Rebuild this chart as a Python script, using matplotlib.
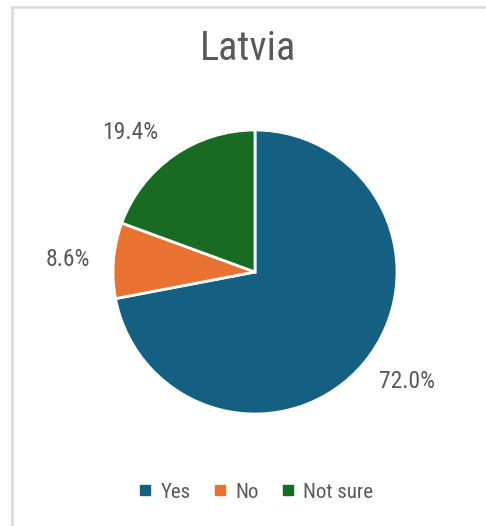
import numpy as np
import matplotlib
matplotlib.use('Agg')
import matplotlib.pyplot as plt
import matplotlib.font_manager as fm
from matplotlib.lines import Line2D

title = "Latvia"
categories = ["Yes", "No", "Not sure"]
values = [72.0, 8.6, 19.4]
colors = ["#156082", "#E97132", "#196B24"]

# look for a narrow face, else fall back to Liberation Sans
faces = [(f.name, f.stretch) for f in fm.fontManager.ttflist]
narrow = [n for n in ['Liberation Sans Narrow', 'Arial Narrow', 'Roboto Condensed',
                      'Open Sans Condensed', 'DejaVu Sans Condensed']
          if n in [a for a, _ in faces]]
if narrow:
    font, stretch, k = narrow[0], 'normal', 1.0
elif ('DejaVu Sans', 'condensed') in faces or ('DejaVu Sans', 'semi-condensed') in faces:
    font, stretch, k = 'DejaVu Sans', 'condensed', 0.9
else:
    font, stretch, k = 'Liberation Sans', 'normal', 0.88
plt.rcParams['font.family'] = [font, 'DejaVu Sans']
plt.rcParams['font.stretch'] = stretch
text_color = "#595959"

W, H = 486, 526
fig = plt.figure(figsize=(W / 100, H / 100), dpi=100)

# light chart frame, only left and top edges are visible in the screenshot
frame = dict(color="#D9D9D9", linewidth=1.8, transform=fig.transFigure)
fig.add_artist(Line2D([11.5 / W, 11.5 / W], [0, 1 - 6.5 / H], **frame))
fig.add_artist(Line2D([11.5 / W, 1], [1 - 6.5 / H, 1 - 6.5 / H], **frame))

# pie centre (255, 272) px, radius 142 px
cx, cy, r = 255, 272, 142
ax = fig.add_axes([(cx - r) / W, (H - cy - r) / H, 2 * r / W, 2 * r / H])
wedges, texts, autotexts = ax.pie(
    values, colors=colors, startangle=90, counterclock=False,
    autopct='%1.1f%%', pctdistance=1.32,
    wedgeprops=dict(edgecolor='white', linewidth=2),
    textprops=dict(color=text_color, fontsize=17 * k))
ax.set_xlim(-1, 1)
ax.set_ylim(-1, 1)

# Excel "best fit" nudges the labels a little around the circle
label_shift = [4, 1, 7]
for w, t, s in zip(wedges, autotexts, label_shift):
    a = np.deg2rad((w.theta1 + w.theta2) / 2 + s)
    t.set_position((1.32 * np.cos(a), 1.32 * np.sin(a)))

fig.text(248 / W, 1 - 49 / H, title, ha='center', va='center',
         fontsize=29 * k, color=text_color)

handles = [Line2D([], [], marker='s', linestyle='none', markersize=6.5,
                  markerfacecolor=c, markeredgecolor=c) for c in colors]
fig.legend(handles, categories, loc='center', bbox_to_anchor=(256 / W, 1 - 492 / H),
           ncol=3, frameon=False, fontsize=15 * k, labelcolor=text_color,
           handlelength=0.6, handletextpad=0.45, columnspacing=1.1)

fig.savefig('out.png', dpi=100)
